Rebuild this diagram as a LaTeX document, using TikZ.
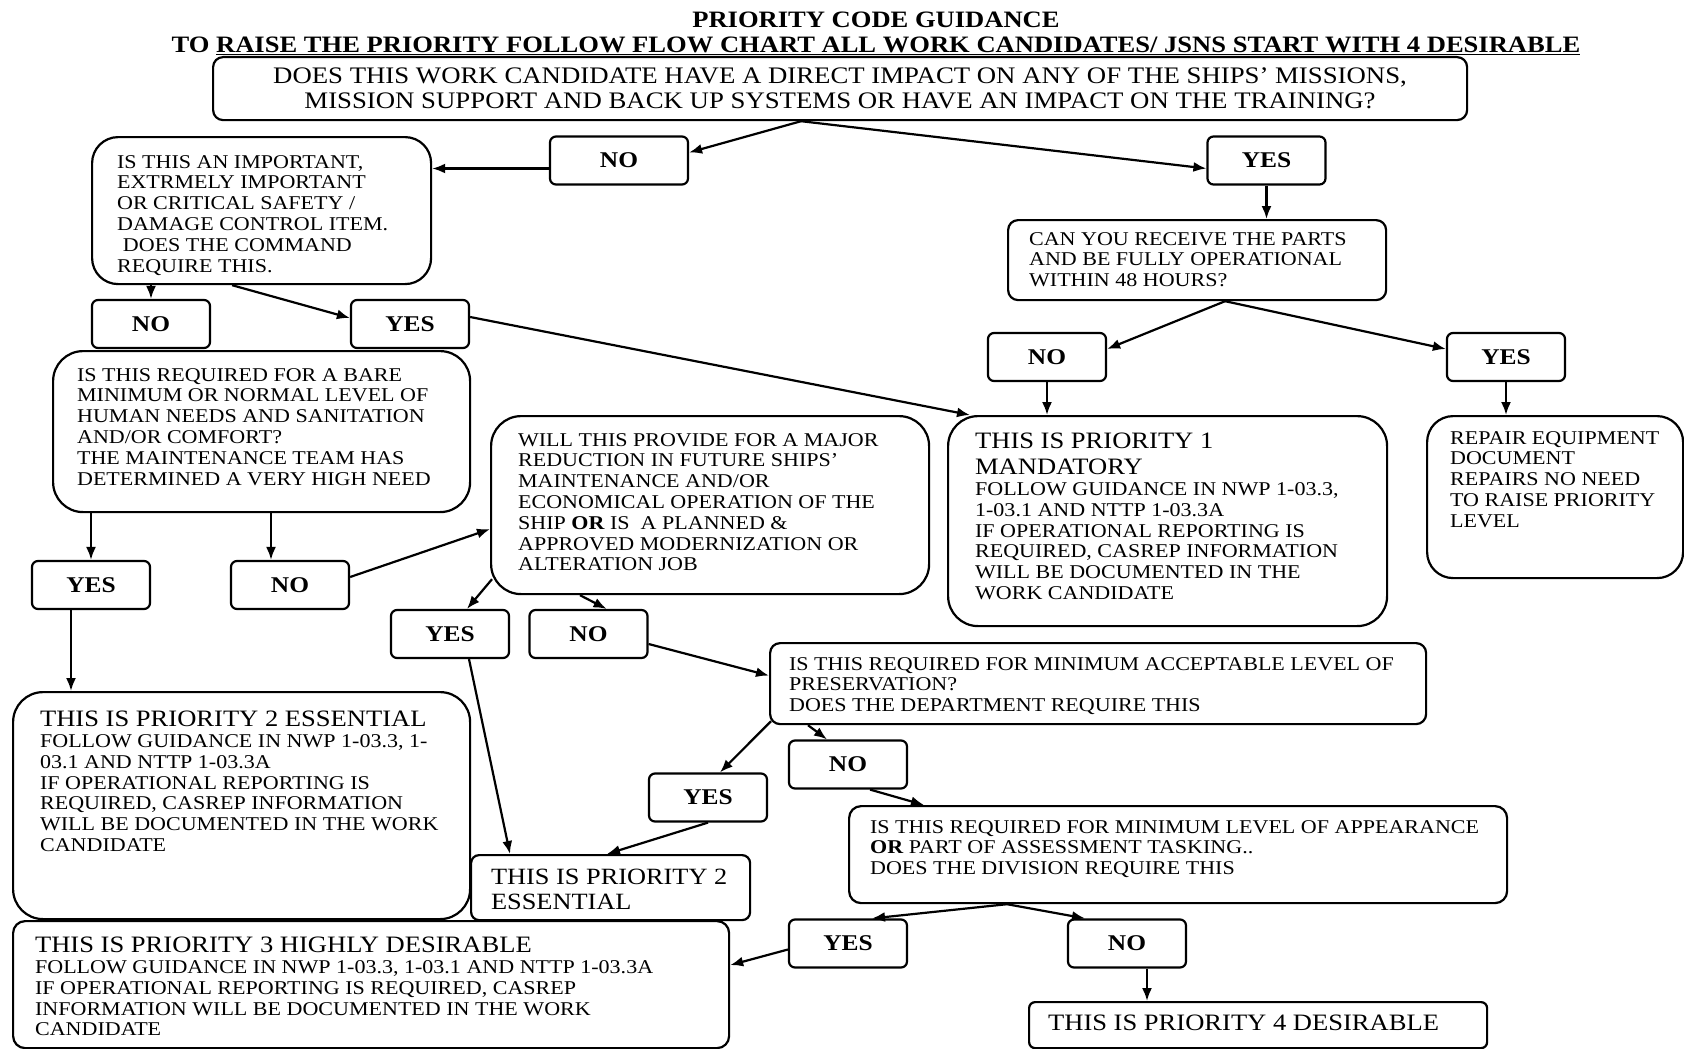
\documentclass[tikz,border=0pt]{standalone}
\usepackage{fontspec}
\setmainfont{Liberation Serif}[FakeStretch=1.13]
\usepackage{tikz}
\usetikzlibrary{arrows.meta}

\newcommand{\bodyfont}{\fontsize{19.5}{20.8}\selectfont}
\newcommand{\headfont}{\fontsize{23.5}{26}\selectfont}
\newcommand{\ansfont}{\fontsize{22.5}{24}\selectfont\bfseries}
\newcommand{\topfont}{\fontsize{23.7}{25}\selectfont}
\newcommand{\titlefont}{\fontsize{23.5}{25}\selectfont\bfseries}
% box text: width, height, left pad, top pad, text
\newcommand{\boxtext}[5]{\parbox[c][#2][t]{#1}{\vspace*{#4}\raggedright\leftskip=#3\relax #5}}

\begin{document}
\begin{tikzpicture}[
    x=1pt, y=-1pt,
    qbox/.style={draw, line width=2.2pt, rounded corners=10pt, inner sep=0pt, anchor=north west, font=\bodyfont},
    ans/.style={draw, line width=2.2pt, rounded corners=6pt, minimum width=118pt, minimum height=48pt, inner sep=0pt, font=\ansfont},
    arrow/.style={-{Latex[length=13pt,width=10pt]}, line width=2.2pt}
]
    \useasboundingbox (0,0) rectangle (1684,1049);

    % Title
    \node[font=\titlefont, align=center] (title) at (876,33.5)
        {PRIORITY CODE GUIDANCE\\ TO \underline{RAISE THE PRIORITY FOLLOW FLOW CHART ALL WORK CANDIDATES/ JSNS START WITH 4 DESIRABLE}};

    % First question
    \node[qbox, align=center, font=\topfont, minimum width=1254pt, minimum height=63pt] (q0) at (212,56)
        {DOES THIS WORK CANDIDATE HAVE A DIRECT IMPACT ON ANY OF THE SHIPS’ MISSIONS,\\ MISSION SUPPORT AND BACK UP SYSTEMS OR HAVE AN IMPACT ON THE TRAINING?};

    % Answers
    \node[ans, minimum width=138pt] (no1) at (619,160.5) {NO};
    \node[ans] (yes1) at (1266.5,160.5) {YES};
    \node[ans] (no2) at (151,324) {NO};
    \node[ans] (yes2) at (410,324) {YES};
    \node[ans] (no3) at (1047,357) {NO};
    \node[ans] (yes3) at (1506,357) {YES};
    \node[ans] (yes4) at (91,585) {YES};
    \node[ans] (no4) at (290,585) {NO};
    \node[ans] (yes5) at (450,634) {YES};
    \node[ans] (no5) at (588.5,634) {NO};
    \node[ans] (yes6) at (708,797.5) {YES};
    \node[ans] (no6) at (848,764.5) {NO};
    \node[ans] (yes7) at (848,943.5) {YES};
    \node[ans] (no7) at (1127,943.5) {NO};

    % Questions
    \node[qbox, rounded corners=26pt] (safety) at (91,136) {\boxtext{339pt}{147pt}{25pt}{18pt}{IS THIS AN IMPORTANT,\\ EXTRMELY IMPORTANT\\ OR CRITICAL SAFETY /\\ DAMAGE CONTROL ITEM.\\ \hspace*{0.3em}DOES THE COMMAND\\ REQUIRE THIS.}};
    \node[qbox] (can) at (1007,219) {\boxtext{378pt}{80pt}{21pt}{12pt}{CAN YOU RECEIVE THE PARTS\\ AND BE FULLY OPERATIONAL\\ WITHIN 48 HOURS?}};
    \node[qbox, rounded corners=30pt] (human) at (52,350) {\boxtext{417pt}{161pt}{24pt}{17pt}{IS THIS REQUIRED FOR A BARE\\ MINIMUM OR NORMAL LEVEL OF\\ HUMAN NEEDS AND SANITATION\\ AND/OR COMFORT?\\ THE MAINTENANCE TEAM HAS\\ DETERMINED A VERY HIGH NEED}};
    \node[qbox, rounded corners=30pt] (major) at (490,415) {\boxtext{438pt}{178pt}{27pt}{17pt}{WILL THIS PROVIDE FOR A MAJOR\\ REDUCTION IN FUTURE SHIPS’\\ MAINTENANCE AND/OR\\ ECONOMICAL OPERATION OF THE\\ SHIP \textbf{OR} IS\ \ A PLANNED \&\\ APPROVED MODERNIZATION OR\\ ALTERATION JOB}};
    \node[qbox] (pres) at (769,642) {\boxtext{656pt}{81pt}{19pt}{14pt}{IS THIS REQUIRED FOR MINIMUM ACCEPTABLE LEVEL OF\\ PRESERVATION?\\ DOES THE DEPARTMENT REQUIRE THIS}};
    \node[qbox, rounded corners=12pt] (app) at (848,805) {\boxtext{658pt}{97pt}{21pt}{14pt}{IS THIS REQUIRED FOR MINIMUM LEVEL OF APPEARANCE\\ \textbf{OR} PART OF ASSESSMENT TASKING..\\ DOES THE DIVISION REQUIRE THIS}};

    % Outcomes
    \node[qbox, rounded corners=30pt] (p1) at (947,415) {\boxtext{439pt}{210pt}{27pt}{17pt}{\headfont THIS IS PRIORITY 1\\ MANDATORY\par\bodyfont FOLLOW GUIDANCE IN NWP 1-03.3,\\ 1-03.1 AND NTTP 1-03.3A\\ IF OPERATIONAL REPORTING IS\\ REQUIRED, CASREP INFORMATION\\ WILL BE DOCUMENTED IN THE\\ WORK CANDIDATE}};
    \node[qbox, rounded corners=26pt] (repair) at (1426,415) {\boxtext{256pt}{162pt}{23pt}{15pt}{REPAIR EQUIPMENT\\ DOCUMENT\\ REPAIRS NO NEED\\ TO RAISE PRIORITY\\ LEVEL}};
    \node[qbox, rounded corners=30pt] (p2big) at (12,691) {\boxtext{457pt}{227pt}{27pt}{19pt}{\headfont THIS IS PRIORITY 2 ESSENTIAL\par\bodyfont FOLLOW GUIDANCE IN NWP 1-03.3, 1-\\ 03.1 AND NTTP 1-03.3A\\ IF OPERATIONAL REPORTING IS\\ REQUIRED, CASREP INFORMATION\\ WILL BE DOCUMENTED IN THE WORK\\ CANDIDATE}};
    \node[qbox, rounded corners=8pt] (p2s) at (470,854) {\boxtext{279pt}{65pt}{20pt}{14pt}{\fontsize{23.3}{25}\selectfont THIS IS PRIORITY 2\\ ESSENTIAL}};
    \node[qbox, rounded corners=12pt] (p3) at (12,920) {\boxtext{716pt}{127pt}{22pt}{16pt}{\headfont THIS IS PRIORITY 3 HIGHLY DESIRABLE\par\bodyfont FOLLOW GUIDANCE IN NWP 1-03.3, 1-03.1 AND NTTP 1-03.3A\\ IF OPERATIONAL REPORTING IS REQUIRED, CASREP\\ INFORMATION WILL BE DOCUMENTED IN THE WORK\\ CANDIDATE}};
    \node[qbox, rounded corners=6pt] (p4) at (1028,1001) {\boxtext{458pt}{46pt}{19pt}{13pt}{\headfont THIS IS PRIORITY 4 DESIRABLE}};

    % Arrows
    \draw[arrow] ([xshift=-39pt]q0.south) -- ([yshift=8pt]no1.east);
    \draw[arrow] ([xshift=-39pt]q0.south) -- ([yshift=-8pt]yes1.west);
    \draw[arrow] ([yshift=-8pt]no1.west) -- ([yshift=-8pt]no1.west -| safety.east);
    \draw[arrow] (yes1.south) -- (yes1.south |- can.north);
    \draw[arrow] (no2.north |- safety.south) -- (no2.north);
    \draw[arrow] ([xshift=-29.5pt]safety.south) -- ([yshift=6pt]yes2.west);
    \draw[arrow] ([yshift=7pt]yes2.east) -- ([xshift=23pt]p1.north west);
    \draw[arrow] ([xshift=28pt]can.south) -- ([yshift=8pt]no3.east);
    \draw[arrow] ([xshift=28pt]can.south) -- ([yshift=8pt]yes3.west);
    \draw[arrow] (no3.south) -- (no3.south |- p1.north);
    \draw[arrow] (yes3.south) -- (yes3.south |- repair.north);
    \draw[arrow] (yes4.north |- human.south) -- (yes4.north);
    \draw[arrow] ([xshift=-19pt]no4.north |- human.south) -- ([xshift=-19pt]no4.north);
    \draw[arrow] ([yshift=8pt]no4.east) -- ([yshift=-24pt]major.west);
    \draw[arrow] ([xshift=2pt,yshift=16pt]major.south west) -- ([xshift=17pt]yes5.north);
    \draw[arrow] ([xshift=90pt]major.south west) -- ([xshift=18pt]no5.north);
    \draw[arrow] ([xshift=-20pt]yes4.south) -- ([xshift=-20pt]yes4.south |- p2big.north);
    \draw[arrow] ([yshift=-10pt]no5.east) -- ([yshift=8pt]pres.west);
    \draw[arrow] ([xshift=19pt]yes5.south) -- ([xshift=40pt]p2s.north west);
    \draw[arrow] ([xshift=2pt,yshift=4pt]pres.south west) -- ([xshift=12pt]yes6.north);
    \draw[arrow] ([xshift=39pt]pres.south west) -- ([xshift=-21pt]no6.north);
    \draw[arrow] (yes6.south) -- ([xshift=137pt]p2s.north west);
    \draw[arrow] ([xshift=22pt]no6.south) -- ([xshift=76pt]app.north west);
    \draw[arrow] ([xshift=159pt]app.south west) -- ([xshift=24pt]yes7.north);
    \draw[arrow] ([xshift=159pt]app.south west) -- ([xshift=-42pt]no7.north);
    \draw[arrow] ([yshift=-6pt]yes7.west) -- ([yshift=19.5pt]p3.east);
    \draw[arrow] ([xshift=20pt]no7.south) -- ([xshift=20pt]no7.south |- p4.north);
\end{tikzpicture}
\end{document}
